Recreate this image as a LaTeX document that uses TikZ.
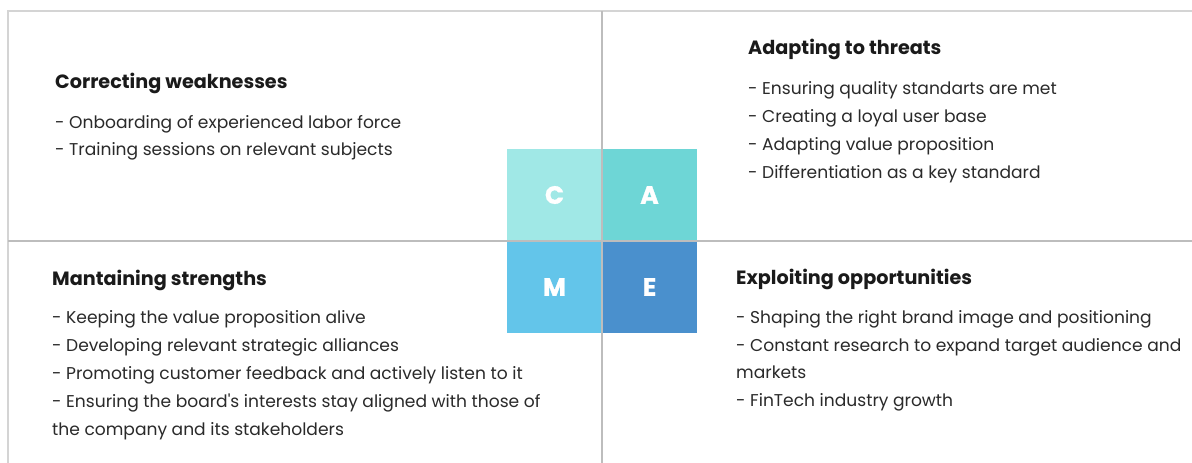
\documentclass[tikz,border=0pt]{standalone}
\usepackage{fontspec}
\setmainfont{Poppins}
\newfontfamily\tilefont[BoldFeatures={FakeBold=1.2}]{Poppins}
\definecolor{gridline}{HTML}{BDBDBD}
\definecolor{frameline}{HTML}{D4D4D4}
\definecolor{bodytext}{HTML}{2A2A2A}
\definecolor{headtext}{HTML}{1A1A1A}
\definecolor{cC}{HTML}{A0E8E6}
\definecolor{cA}{HTML}{6ED6D6}
\definecolor{cM}{HTML}{63C5EA}
\definecolor{cE}{HTML}{4A90CD}
\begin{document}
\begin{tikzpicture}[x=1pt,y=-1pt,
  tile/.style={minimum width=95pt, minimum height=92pt, inner sep=0pt,
    text=white, font=\fontsize{25}{25}\tilefont\bfseries},
  head/.style={anchor=base west, inner sep=0pt, text=headtext,
    font=\fontsize{19.2}{22}\selectfont\bfseries},
  item/.style={anchor=base west, inner sep=0pt, text=bodytext,
    font=\fontsize{17.1}{20}\selectfont}]
\useasboundingbox (0,0) rectangle (1192,463);
\fill[white] (0,0) rectangle (1192,463);

% outer frame: top and left edges only
\draw[frameline, line width=1.6pt] (8,463) -- (8,11) -- (1192,11);

% central CAME tiles
\node[tile, fill=cC] (C) at (554.5,195) {C};
\node[tile, fill=cA] (A) at (649.5,195) {A};
\node[tile, fill=cM] (M) at (554.5,287) {M};
\node[tile, fill=cE] (E) at (649.5,287) {E};

% quadrant dividers
\draw[gridline, line width=1.8pt] (602,11) -- (602,463);
\draw[gridline, line width=1.8pt] (8,241) -- (1192,241);

% top left
\node[head] (tlh) at (55,88) {Correcting weaknesses};
\node[item] (tl1) at (55,128) {- Onboarding of experienced labor force};
\node[item] (tl2) at (55,155) {- Training sessions on relevant subjects};

% top right
\node[head] (trh) at (748,54) {Adapting to threats};
\node[item] (tr1) at (748,94) {- Ensuring quality standarts are met};
\node[item] (tr2) at (748,122) {- Creating a loyal user base};
\node[item] (tr3) at (748,150) {- Adapting value proposition};
\node[item] (tr4) at (748,178) {- Differentiation as a key standard};

% bottom left
\node[head] (blh) at (52,285) {Mantaining strengths};
\node[item] (bl1) at (52,323) {- Keeping the value proposition alive};
\node[item] (bl2) at (52,351) {- Developing relevant strategic alliances};
\node[item] (bl3) at (52,379) {- Promoting customer feedback and actively listen to it};
\node[item] (bl4) at (52,407) {- Ensuring the board\textquotesingle s interests stay aligned with those of};
\node[item] (bl5) at (52,435) {the company and its stakeholders};

% bottom right
\node[head] (brh) at (736,284) {Exploiting opportunities};
\node[item] (br1) at (736,323) {- Shaping the right brand image and positioning};
\node[item] (br2) at (736,351) {- Constant research to expand target audience and};
\node[item] (br3) at (736,378) {markets};
\node[item] (br4) at (736,406) {- FinTech industry growth};
\end{tikzpicture}
\end{document}
